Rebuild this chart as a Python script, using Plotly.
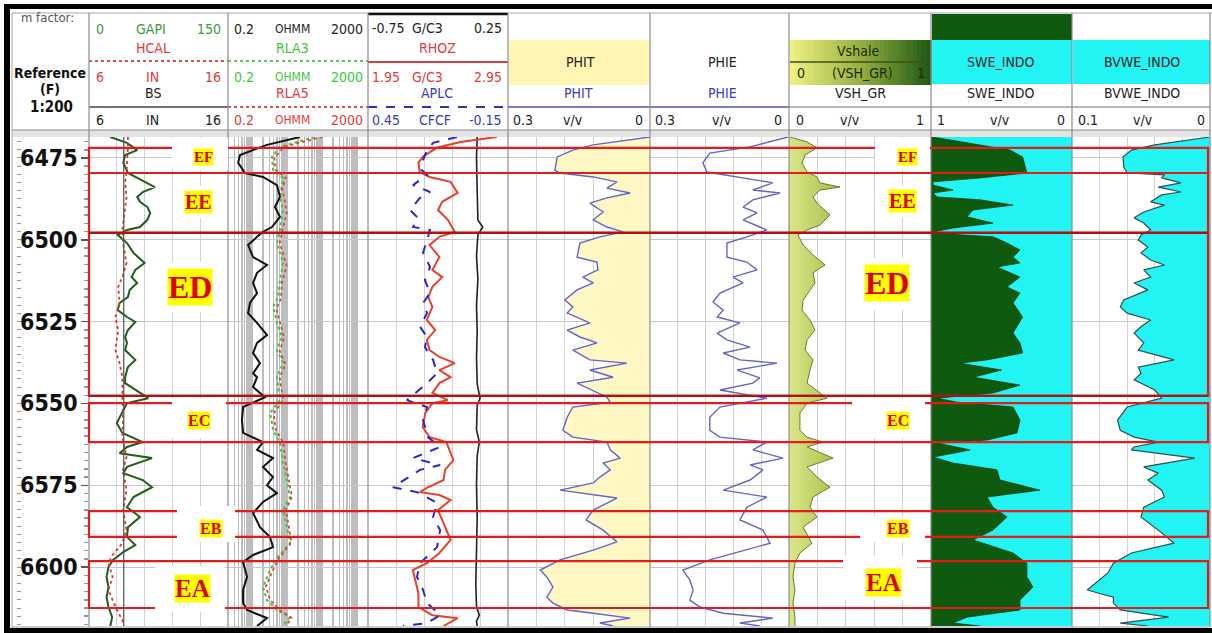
import math
import plotly.graph_objects as go

W, H = 1212, 633
def PX(x): return x / W
def PY(y): return 1 - y / H

TOP_DEPTH, BOT_DEPTH = 6468.6, 6618.0
DEPTH_TICKS = [6475, 6500, 6525, 6550, 6575, 6600]

# ---------------- data (depth, value) ----------------
GR_LOG = [(6468.6, 23), (6470.4, 41), (6472.6, 52), (6474.1, 39), (6476.5, 37), (6479.6, 42), (6481.1, 52),
          (6482.6, 63), (6483.9, 71), (6485.4, 58), (6486.9, 52), (6488.4, 55), (6490.0, 63), (6491.8, 66),
          (6493.9, 63), (6496.1, 55), (6497.0, 41), (6498.5, 31), (6501.0, 41), (6504.0, 48), (6507.1, 60),
          (6509.2, 50), (6511.4, 46), (6513.2, 52), (6515.3, 44), (6517.5, 42), (6519.3, 33), (6521.5, 31),
          (6523.6, 41), (6525.1, 50), (6527.6, 42), (6529.7, 39), (6531.5, 41), (6533.7, 39), (6536.7, 50),
          (6538.9, 42), (6542.0, 39), (6543.8, 39), (6546.8, 55), (6548.4, 64), (6549.9, 41), (6552.9, 36),
          (6556.0, 30), (6559.0, 36), (6561.8, 58), (6563.3, 41), (6565.2, 33), (6566.7, 68), (6569.4, 41),
          (6571.3, 37), (6573.4, 58), (6575.6, 68), (6578.6, 48), (6581.7, 41), (6584.7, 55), (6587.8, 42),
          (6590.8, 41), (6593.3, 50), (6595.4, 37), (6597.8, 26), (6600.0, 21), (6603.0, 19), (6606.1, 21),
          (6609.2, 19), (6612.2, 21), (6615.3, 25), (6618.0, 23)]
HCAL_LOG = [(6468.6, 8.8), (6471.6, 8.8), (6479.3, 8.7), (6482.6, 8.6), (6486.9, 8.7), (6490.9, 8.6),
            (6497.0, 8.4), (6501.0, 8.45), (6507.1, 8.7), (6511.4, 8.4), (6514.4, 8.1), (6519.3, 8.2),
            (6523.6, 7.9), (6527.6, 8.1), (6533.7, 7.9), (6537.7, 8.2), (6542.0, 8.4), (6548.1, 8.4),
            (6555.1, 8.45), (6560.3, 8.4), (6566.4, 8.7), (6570.3, 8.45), (6576.5, 8.7), (6582.6, 8.45),
            (6588.7, 8.7), (6592.7, 8.4), (6596.3, 7.7), (6598.8, 7.4), (6603.0, 7.7), (6607.0, 7.4),
            (6610.1, 7.7), (6613.1, 8.0), (6616.2, 8.4), (6618.0, 8.5)]
BS_LOG = [(6468.6, 8.5), (6618.0, 8.5)]
RSH_LOG = [(6468.6, 22.8), (6471.0, 2.6), (6474.1, 0.44), (6476.5, 0.39), (6479.6, 0.61), (6480.8, 2.0),
           (6483.3, 5.0), (6486.9, 6.1), (6490.0, 4.4), (6493.0, 6.1), (6496.1, 3.6), (6497.6, 2.0),
           (6499.1, 1.35), (6501.6, 0.75), (6505.3, 1.04), (6507.7, 2.6), (6510.1, 1.35), (6513.2, 1.04),
           (6516.3, 1.35), (6519.3, 0.85), (6522.4, 0.75), (6525.4, 1.35), (6529.1, 2.6), (6531.5, 1.35),
           (6534.6, 1.04), (6537.7, 1.64), (6540.8, 1.04), (6542.0, 1.35), (6545.0, 1.04), (6548.1, 2.28),
           (6551.1, 0.54), (6555.1, 0.50), (6559.0, 0.54), (6561.8, 2.0), (6564.2, 1.35), (6566.7, 3.86),
           (6569.4, 2.0), (6572.5, 3.86), (6575.0, 2.6), (6577.4, 5.0), (6580.1, 2.0), (6583.5, 1.04),
           (6587.8, 1.64), (6590.8, 3.17), (6593.9, 3.86), (6596.3, 1.04), (6598.5, 0.54), (6603.0, 0.70),
           (6607.0, 0.54), (6611.0, 0.54), (6613.1, 0.70), (6615.6, 2.6), (6618.0, 1.35)]
RLA3_LOG = [(6468.6, 60), (6471.6, 6.1), (6474.7, 3.6), (6478.7, 3.9), (6481.1, 7.5), (6486.9, 6.1),
            (6490.9, 7.5), (6497.0, 6.1), (6501.0, 5.0), (6507.1, 7.5), (6512.3, 6.1), (6517.5, 5.4),
            (6520.5, 3.9), (6525.4, 5.0), (6529.7, 6.9), (6533.7, 5.0), (6537.7, 7.5), (6542.0, 5.0),
            (6549.0, 6.1), (6552.9, 3.2), (6558.2, 3.9), (6562.1, 6.1), (6568.2, 7.5), (6573.4, 9.7),
            (6578.6, 11.8), (6582.6, 7.5), (6587.8, 9.7), (6592.7, 11.8), (6597.2, 5.0), (6600.9, 3.2),
            (6606.1, 2.0), (6610.1, 2.6), (6613.1, 5.0), (6615.3, 11.8), (6618.0, 7.5)]
RLA5_LOG = [(6468.6, 100), (6471.6, 8.0), (6475.0, 4.2), (6478.7, 4.6), (6481.1, 9.0), (6484.5, 7.0),
            (6488.0, 8.4), (6492.0, 9.5), (6497.0, 7.2), (6501.0, 6.0), (6505.0, 7.8), (6508.0, 9.5),
            (6513.0, 7.0), (6518.0, 6.5), (6521.0, 4.8), (6526.0, 6.2), (6530.0, 8.0), (6534.0, 6.0),
            (6538.0, 8.8), (6542.0, 6.0), (6549.0, 7.5), (6553.0, 4.0), (6558.0, 4.6), (6562.0, 7.6),
            (6568.0, 8.8), (6573.5, 11.0), (6578.5, 13.5), (6582.5, 9.0), (6588.0, 11.0), (6592.5, 13.0),
            (6597.0, 6.0), (6601.0, 3.8), (6606.0, 2.4), (6610.0, 3.2), (6613.0, 5.8), (6615.5, 13.0),
            (6618.0, 9.0)]
DCOR_LOG = [(6468.6, 0.03), (6475.0, 0.025), (6485.0, 0.03), (6494.0, 0.035), (6496.1, 0.07), (6498.5, 0.035),
            (6505.0, 0.025), (6512.0, 0.035), (6520.0, 0.025), (6528.0, 0.03), (6536.0, 0.025), (6544.0, 0.03),
            (6548.4, 0.05), (6550.5, 0.03), (6558.0, 0.025), (6561.8, 0.045), (6566.0, 0.03), (6575.0, 0.025),
            (6585.0, 0.03), (6595.0, 0.025), (6605.0, 0.02), (6612.0, 0.025), (6614.7, 0.045), (6616.5, 0.025),
            (6618.0, 0.03)]
RHOZ_LOG = [(6468.6, 2.87), (6470.1, 2.61), (6471.9, 2.44), (6474.7, 2.34), (6476.5, 2.31), (6479.3, 2.32),
            (6480.8, 2.39), (6482.3, 2.54), (6485.7, 2.59), (6488.4, 2.48), (6490.9, 2.45), (6493.9, 2.52),
            (6497.6, 2.57), (6499.1, 2.46), (6501.6, 2.39), (6505.3, 2.46), (6509.2, 2.41), (6511.4, 2.48),
            (6514.4, 2.41), (6517.5, 2.38), (6520.5, 2.41), (6524.5, 2.37), (6527.6, 2.43), (6530.6, 2.37),
            (6533.7, 2.39), (6535.8, 2.46), (6537.7, 2.57), (6539.8, 2.46), (6542.0, 2.54), (6543.8, 2.46),
            (6546.8, 2.41), (6549.0, 2.52), (6549.9, 2.41), (6552.9, 2.36), (6557.2, 2.34), (6560.3, 2.39),
            (6561.8, 2.51), (6565.2, 2.54), (6567.3, 2.56), (6570.3, 2.50), (6573.4, 2.49), (6575.8, 2.37),
            (6577.1, 2.32), (6578.0, 2.46), (6579.5, 2.54), (6582.6, 2.45), (6586.5, 2.49), (6591.7, 2.54),
            (6595.7, 2.46), (6598.8, 2.37), (6600.9, 2.27), (6604.9, 2.29), (6607.9, 2.31), (6612.2, 2.31),
            (6614.7, 2.41), (6615.6, 2.59), (6618.0, 2.49)]
APLC_LOG = [(6468.6, 0.069), (6470.4, 0.171), (6472.6, 0.197), (6475.6, 0.214), (6478.7, 0.219), (6480.2, 0.197),
            (6483.3, 0.257), (6485.4, 0.184), (6487.2, 0.227), (6490.9, 0.270), (6493.3, 0.236), (6496.1, 0.257),
            (6497.0, 0.184), (6500.1, 0.197), (6504.0, 0.214), (6508.3, 0.184), (6512.3, 0.206), (6516.3, 0.184),
            (6519.3, 0.214), (6522.4, 0.197), (6526.6, 0.227), (6529.7, 0.197), (6532.8, 0.206), (6536.7, 0.171),
            (6540.8, 0.154), (6543.8, 0.197), (6549.0, 0.283), (6551.1, 0.197), (6555.1, 0.214), (6560.3, 0.193),
            (6563.3, 0.141), (6566.7, 0.257), (6568.8, 0.141), (6570.3, 0.227), (6575.6, 0.343), (6577.1, 0.240),
            (6580.4, 0.154), (6584.7, 0.171), (6588.7, 0.141), (6593.9, 0.154), (6598.8, 0.227), (6603.0, 0.240),
            (6607.0, 0.214), (6611.0, 0.197), (6614.7, 0.141), (6617.1, 0.197), (6618.0, 0.30)]
PHIT_LOG = [(6468.6, 0.0), (6471.0, 0.120), (6472.6, 0.163), (6474.7, 0.196), (6478.7, 0.201), (6479.6, 0.190),
            (6480.8, 0.120), (6482.3, 0.070), (6484.2, 0.091), (6485.7, 0.042), (6487.2, 0.091), (6488.8, 0.127),
            (6491.5, 0.099), (6493.9, 0.120), (6496.1, 0.091), (6497.6, 0.057), (6499.1, 0.106), (6501.0, 0.148),
            (6505.3, 0.154), (6506.8, 0.112), (6509.2, 0.110), (6511.4, 0.142), (6513.2, 0.120), (6515.3, 0.154),
            (6518.4, 0.180), (6520.5, 0.163), (6522.4, 0.175), (6525.4, 0.127), (6527.6, 0.175), (6529.7, 0.148),
            (6531.5, 0.112), (6533.7, 0.163), (6536.7, 0.127), (6537.7, 0.049), (6539.8, 0.127), (6542.0, 0.078),
            (6543.8, 0.154), (6548.1, 0.091), (6549.6, 0.084), (6551.1, 0.163), (6554.2, 0.175), (6558.2, 0.184),
            (6560.3, 0.163), (6561.8, 0.091), (6564.2, 0.084), (6566.7, 0.063), (6568.2, 0.099), (6570.3, 0.084),
            (6572.5, 0.106), (6574.3, 0.120), (6576.5, 0.190), (6578.0, 0.120), (6578.9, 0.070), (6582.6, 0.120),
            (6585.6, 0.135), (6588.7, 0.099), (6592.3, 0.070), (6594.8, 0.120), (6597.8, 0.190), (6600.9, 0.232),
            (6603.0, 0.218), (6606.1, 0.205), (6609.2, 0.218), (6611.0, 0.205), (6613.1, 0.175), (6614.1, 0.120),
            (6615.6, 0.042), (6617.1, 0.106), (6618.0, 0.078)]
PHIE_LOG = [(6468.6, 0.002), (6471.6, 0.084), (6473.5, 0.171), (6476.5, 0.186), (6479.3, 0.177), (6480.8, 0.112),
            (6482.6, 0.035), (6484.8, 0.078), (6485.7, 0.019), (6487.8, 0.078), (6490.0, 0.099), (6491.8, 0.069),
            (6493.9, 0.099), (6496.1, 0.063), (6497.0, 0.048), (6499.1, 0.091), (6501.0, 0.134), (6505.3, 0.134),
            (6506.8, 0.091), (6509.2, 0.069), (6511.4, 0.121), (6513.2, 0.099), (6516.3, 0.149), (6519.0, 0.164),
            (6521.5, 0.142), (6523.6, 0.155), (6525.4, 0.106), (6528.5, 0.155), (6530.6, 0.134), (6532.8, 0.084),
            (6534.6, 0.142), (6536.7, 0.106), (6537.7, 0.026), (6539.8, 0.112), (6542.2, 0.063), (6543.8, 0.078),
            (6545.9, 0.149), (6548.4, 0.048), (6551.1, 0.149), (6554.2, 0.171), (6558.2, 0.171), (6560.3, 0.149),
            (6561.8, 0.048), (6564.2, 0.078), (6566.7, 0.013), (6568.8, 0.084), (6570.3, 0.056), (6573.4, 0.084),
            (6576.5, 0.142), (6578.6, 0.048), (6581.7, 0.091), (6585.6, 0.106), (6588.7, 0.056), (6592.7, 0.041),
            (6595.4, 0.112), (6597.8, 0.171), (6600.9, 0.229), (6604.0, 0.214), (6607.0, 0.207), (6610.1, 0.214),
            (6612.2, 0.192), (6614.1, 0.142), (6615.6, 0.035), (6617.1, 0.106), (6618.0, 0.063)]
VSH_LOG = [(6468.6, 0.007), (6470.1, 0.127), (6471.9, 0.197), (6474.1, 0.113), (6476.5, 0.092), (6479.3, 0.127),
           (6480.8, 0.197), (6482.6, 0.218), (6483.9, 0.359), (6484.8, 0.218), (6486.9, 0.169), (6488.8, 0.197),
           (6492.4, 0.289), (6495.5, 0.218), (6497.0, 0.127), (6498.5, 0.063), (6501.6, 0.099), (6504.6, 0.169),
           (6507.7, 0.254), (6510.1, 0.169), (6513.2, 0.183), (6516.3, 0.134), (6518.4, 0.099), (6521.5, 0.092),
           (6524.5, 0.148), (6527.6, 0.183), (6530.6, 0.127), (6533.7, 0.113), (6536.7, 0.169), (6539.8, 0.148),
           (6543.8, 0.127), (6548.4, 0.268), (6549.9, 0.127), (6552.9, 0.077), (6558.2, 0.077), (6560.3, 0.127),
           (6561.8, 0.239), (6563.3, 0.127), (6566.7, 0.310), (6569.4, 0.127), (6572.5, 0.197), (6575.6, 0.289),
           (6578.6, 0.169), (6581.7, 0.148), (6584.7, 0.197), (6587.8, 0.099), (6592.7, 0.162), (6595.7, 0.077),
           (6598.8, 0.042), (6603.0, 0.028), (6607.0, 0.042), (6611.0, 0.028), (6615.3, 0.042), (6618.0, 0.042)]
SWE_LOG = [(6468.6, 0.99), (6470.4, 0.745), (6472.6, 0.44), (6474.7, 0.35), (6477.8, 0.333), (6479.6, 0.32),
           (6481.1, 0.652), (6482.3, 0.986), (6483.3, 0.986), (6484.8, 0.844), (6485.7, 0.986), (6486.9, 0.957),
           (6487.8, 0.652), (6489.4, 0.418), (6490.9, 0.702), (6493.0, 0.745), (6494.9, 0.56), (6496.4, 0.844),
           (6497.6, 0.986), (6498.5, 0.794), (6499.1, 0.56), (6501.0, 0.461), (6503.1, 0.369), (6505.3, 0.418),
           (6507.1, 0.369), (6508.3, 0.532), (6511.4, 0.369), (6514.4, 0.461), (6516.3, 0.369), (6519.3, 0.418),
           (6523.6, 0.35), (6526.6, 0.39), (6528.5, 0.418), (6531.5, 0.369), (6534.6, 0.35), (6536.7, 0.603),
           (6537.7, 0.794), (6539.8, 0.50), (6542.0, 0.70), (6544.4, 0.369), (6546.8, 0.56), (6548.4, 0.957),
           (6549.6, 0.816), (6551.1, 0.418), (6555.1, 0.369), (6559.0, 0.39), (6561.2, 0.603), (6562.1, 0.957),
           (6564.2, 0.723), (6566.4, 0.986), (6568.2, 0.844), (6570.3, 0.532), (6573.4, 0.511), (6576.5, 0.227),
           (6578.6, 0.603), (6581.7, 0.56), (6584.7, 0.461), (6588.7, 0.56), (6591.7, 0.702), (6595.7, 0.418),
           (6598.8, 0.32), (6603.0, 0.32), (6606.1, 0.277), (6610.1, 0.369), (6613.1, 0.369), (6615.3, 0.745),
           (6617.1, 0.844), (6618.0, 0.652)]
BVWE_LOG = [(6468.6, 0.0), (6471.0, 0.040), (6472.6, 0.057), (6474.7, 0.063), (6477.8, 0.0625), (6479.6, 0.060),
            (6480.2, 0.033), (6481.1, 0.035), (6482.6, 0.021), (6483.9, 0.0375), (6485.4, 0.021), (6486.3, 0.035),
            (6488.4, 0.043), (6489.4, 0.033), (6491.5, 0.048), (6493.3, 0.055), (6494.9, 0.048), (6497.0, 0.043),
            (6498.5, 0.050), (6500.1, 0.052), (6502.2, 0.045), (6504.0, 0.050), (6506.2, 0.043), (6507.7, 0.033),
            (6509.2, 0.048), (6511.4, 0.043), (6513.2, 0.055), (6515.3, 0.045), (6518.4, 0.0625), (6520.5, 0.065),
            (6522.4, 0.060), (6524.5, 0.043), (6526.6, 0.050), (6528.5, 0.055), (6531.5, 0.048), (6533.7, 0.052),
            (6536.7, 0.026), (6538.9, 0.052), (6540.8, 0.050), (6542.8, 0.055), (6545.9, 0.040), (6548.4, 0.035),
            (6551.1, 0.060), (6555.1, 0.067), (6558.2, 0.065), (6560.3, 0.055), (6561.8, 0.0375), (6563.3, 0.055),
            (6564.2, 0.057), (6566.7, 0.011), (6569.4, 0.048), (6571.3, 0.0375), (6573.4, 0.045), (6576.5, 0.035),
            (6578.6, 0.033), (6581.7, 0.048), (6584.7, 0.050), (6588.7, 0.0375), (6592.7, 0.026), (6595.7, 0.057),
            (6598.8, 0.070), (6601.8, 0.074), (6607.0, 0.089), (6609.2, 0.070), (6611.0, 0.070), (6613.1, 0.065),
            (6615.3, 0.030), (6617.1, 0.065), (6618.0, 0.045)]

ZONE_NAMES = ["EF", "EE", "ED", "EC", "EB", "EA"]
ZONE_TOPS = [6471.9, 6479.6, 6497.9, 6549.9, 6582.9, 6598.2]
ZONE_BOTS = [6479.6, 6497.9, 6547.7, 6561.8, 6590.8, 6612.5]

def split(pairs):
    return [p[0] for p in pairs], [p[1] for p in pairs]

# ---------------- geometry (pixels) ----------------
TRK = {'gr': (89, 228), 'res': (228, 368), 'den': (368, 508), 'phit': (508, 650),
       'phie': (650, 789), 'vsh': (789, 931), 'swe': (931, 1072), 'bvw': (1072, 1210)}
def dom(k):
    a, b = TRK[k]
    return [PX(a), PX(b)]

HF = "Liberation Sans Narrow, DejaVu Sans Condensed, Arial Narrow, Liberation Sans, sans-serif"
GRID = '#D2D2D2'
CYAN = '#22F4F4'
DKGREEN = '#0E5A0E'

fig = go.Figure()

def add(pairs, axis, color, width=1.5, dash='solid', fill=None, fillcolor=None, **kw):
    d, v = split(pairs)
    fig.add_trace(go.Scatter(x=v, y=d, xaxis=axis, yaxis='y', mode='lines',
                             line=dict(color=color, width=width, dash=dash),
                             fill=fill, fillcolor=fillcolor, hoverinfo='skip',
                             showlegend=False, **kw))

def baseline(axis, value):
    fig.add_trace(go.Scatter(x=[value, value], y=[TOP_DEPTH, BOT_DEPTH], xaxis=axis, yaxis='y',
                             mode='lines', line=dict(width=0, color='rgba(0,0,0,0)'),
                             hoverinfo='skip', showlegend=False))

# GR track
add(GR_LOG, 'x', '#1D5E1D', 2)
add(HCAL_LOG, 'x2', '#E03535', 1.8, 'dot')
add(BS_LOG, 'x2', '#505050', 1.2)
# Resistivity
add(RLA3_LOG, 'x3', '#3CC83C', 2, 'dot')
add(RLA5_LOG, 'x3', '#E04040', 1.8, 'dot')
add(RSH_LOG, 'x3', '#111111', 2)
# Density / neutron
add(DCOR_LOG, 'x4', '#222222', 1.6)
add(RHOZ_LOG, 'x5', '#E8402A', 2)
add(APLC_LOG, 'x6', '#2828C8', 2, 'dash')
# PHIT
baseline('x7', 0)
add(PHIT_LOG, 'x7', '#6464C8', 1.4, fill='tonextx', fillcolor='#FFF7C4')
# PHIE
add(PHIE_LOG, 'x8', '#6464C8', 1.4)
# VSH
baseline('x9', 0)
add(VSH_LOG, 'x9', '#6E7A30', 1, fill='tonextx', fillcolor='#D0DC78',
    fillgradient=dict(type='horizontal', start=0, stop=0.36,
                      colorscale=[[0, '#DCE689'], [1, '#A4BE46']]))
# SWE
baseline('x10', 1)
add(SWE_LOG, 'x10', DKGREEN, 0.8, fill='tonextx', fillcolor=DKGREEN)
baseline('x10', 0)
add(SWE_LOG, 'x10', '#0A3A0A', 0.8, fill='tonextx', fillcolor=CYAN)
# BVWE
baseline('x11', 0)
add(BVWE_LOG, 'x11', '#2F4F4F', 1.2, fill='tonextx', fillcolor=CYAN)
# helper for the left tick ruler axis
fig.add_trace(go.Scatter(x=[75], y=[6500], xaxis='x', yaxis='y2', mode='markers',
                         marker=dict(opacity=0), hoverinfo='skip', showlegend=False))

ax = dict(showticklabels=False, ticks='', zeroline=False, showline=False, anchor='y', fixedrange=True)
layout = dict(
    width=W, height=H, margin=dict(l=0, r=0, t=0, b=0),
    paper_bgcolor='white', plot_bgcolor='white', showlegend=False,
    xaxis=dict(domain=dom('gr'), range=[0, 150], tick0=0, dtick=30, showgrid=True, gridcolor=GRID, **ax),
    xaxis2=dict(overlaying='x', range=[6, 16], showgrid=False, **ax),
    xaxis3=dict(domain=dom('res'), type='log', range=[math.log10(0.2), math.log10(2000)], dtick='D1',
                showgrid=True, gridcolor='#BDBDBD', gridwidth=1.3, **ax),
    xaxis4=dict(domain=dom('den'), range=[-0.75, 0.25], tick0=-0.75, dtick=0.2, showgrid=True, gridcolor=GRID, **ax),
    xaxis5=dict(overlaying='x4', range=[1.95, 2.95], showgrid=False, **ax),
    xaxis6=dict(overlaying='x4', range=[0.45, -0.15], showgrid=False, **ax),
    xaxis7=dict(domain=dom('phit'), range=[0.3, 0], tick0=0, dtick=0.06, showgrid=True, gridcolor=GRID, **ax),
    xaxis8=dict(domain=dom('phie'), range=[0.3, 0], tick0=0, dtick=0.06, showgrid=True, gridcolor=GRID, **ax),
    xaxis9=dict(domain=dom('vsh'), range=[0, 1], tick0=0, dtick=0.2, showgrid=True, gridcolor=GRID, **ax),
    xaxis10=dict(domain=dom('swe'), range=[1, 0], showgrid=False, **ax),
    xaxis11=dict(domain=dom('bvw'), range=[0.1, 0], tick0=0, dtick=0.02, showgrid=True, gridcolor=GRID, **ax),
    yaxis=dict(domain=[PY(626), PY(137)], range=[BOT_DEPTH, TOP_DEPTH], anchor='free', position=PX(88),
               side='left', tickmode='array', tickvals=DEPTH_TICKS, ticks='outside', ticklen=7,
               tickwidth=1.5, tickcolor='#555555', showticklabels=False,
               showgrid=True, gridcolor='#C8C8C8', zeroline=False, showline=False, fixedrange=True,
               minor=dict(ticks='outside', tickmode='linear', tick0=6475, dtick=2.5, ticklen=4,
                          tickcolor='#8A9AAA', showgrid=False)),
    yaxis2=dict(overlaying='y', anchor='free', position=PX(16), side='right', range=[BOT_DEPTH, TOP_DEPTH],
                tickmode='linear', tick0=6475, dtick=2.5, ticks='outside', ticklen=4, tickcolor='#8A9AAA',
                showticklabels=False, showgrid=False, zeroline=False, showline=False, fixedrange=True),
)
fig.update_layout(**layout)

shapes = []
annots = []

def rect(x0, y0, x1, y1, fill, line=None, lw=0, layer='above'):
    shapes.append(dict(type='rect', xref='paper', yref='paper', x0=PX(x0), x1=PX(x1), y0=PY(y0), y1=PY(y1),
                       fillcolor=fill, line=dict(color=line or fill, width=lw), layer=layer))

def hline(y, x0, x1, color, width=1, dash='solid'):
    shapes.append(dict(type='line', xref='paper', yref='paper', x0=PX(x0), x1=PX(x1), y0=PY(y), y1=PY(y),
                       line=dict(color=color, width=width, dash=dash), layer='above'))

def vline(x, y0, y1, color, width=1):
    shapes.append(dict(type='line', xref='paper', yref='paper', x0=PX(x), x1=PX(x), y0=PY(y0), y1=PY(y1),
                       line=dict(color=color, width=width), layer='above'))

def txt(x, y, s, color='#222222', size=14, anchor='center', bold=False, family=HF):
    annots.append(dict(x=PX(x), y=PY(y), xref='paper', yref='paper', text=(f'<b>{s}</b>' if bold else s),
                       showarrow=False, xanchor=anchor, yanchor='middle',
                       font=dict(family=family, size=size, color=color), borderpad=0))

# depth labels (placed on the depth axis)
for d in DEPTH_TICKS:
    annots.append(dict(x=PX(79), y=d, xref='paper', yref='y', text=f'<b>{d}</b>', showarrow=False,
                       xanchor='right', yanchor='middle', borderpad=0,
                       font=dict(family=HF, size=23, color='#111111')))

# ---- header boxes ----
rect(509, 40, 649, 85, '#FFF6B4')
g0, g1, g2 = (238, 240, 128), (150, 175, 64), (34, 90, 22)
n = 30
for i in range(n):
    t = i / (n - 1)
    if t < 0.5:
        a, b, u = g0, g1, t / 0.5
    else:
        a, b, u = g1, g2, (t - 0.5) / 0.5
    c = tuple(int(a[k] + (b[k] - a[k]) * u) for k in range(3))
    xa = 790 + i * (141 / n)
    rect(xa, 40, xa + 141 / n + 0.6, 85, 'rgb(%d,%d,%d)' % c)
hline(62, 790, 931, '#3E5218', 1.5)
rect(932, 14, 1072, 40, DKGREEN)
rect(932, 40, 1072, 84, CYAN)
rect(1073, 40, 1210, 84, CYAN)

# ---- header lines ----
hline(13, 12, 1212, '#A8A8A8', 1)
hline(14, 368, 508, '#111111', 2.5)
hline(61, 89, 228, '#E05050', 2, 'dot')
hline(107, 89, 228, '#444444', 1.5)
hline(61, 228, 368, '#50D050', 2, 'dot')
hline(107, 228, 368, '#E05050', 2, 'dot')
hline(62, 368, 508, '#D04040', 2)
hline(107, 368, 508, '#3030C0', 2, 'dash')
hline(107, 508, 789, '#5050B0', 1.5)
hline(107, 789, 1210, '#707070', 1.2)
rect(12, 130, 1210, 137, '#E4E4E4')
hline(130, 12, 1210, '#8A8A8A', 1)

# ---- track separators ----
for xs in [89, 228, 368, 508, 650, 789, 931, 1072, 1210]:
    vline(xs, 13, 627, '#8C8C8C', 1.2)
vline(12, 13, 628, '#A8A8A8', 1)
hline(627, 12, 1210, '#9A9A9A', 1)

# ---- frame ----
rect(4, 4, 1212, 9, '#000000')
rect(4, 4, 10, 633, '#000000')
rect(4, 628, 1212, 633, '#000000')

# ---- zones ----
for top, bot in zip(ZONE_TOPS, ZONE_BOTS):
    shapes.append(dict(type='rect', xref='paper', yref='y', x0=PX(89), x1=PX(1208), y0=top, y1=bot,
                       line=dict(color='#E21B1B', width=2.2), fillcolor='rgba(0,0,0,0)', layer='above'))
for dz in (ZONE_BOTS[1], ZONE_BOTS[2]):
    shapes.append(dict(type='line', xref='paper', yref='y', x0=PX(89), x1=PX(1208), y0=dz, y1=dz,
                       line=dict(color='#B01212', width=2.4), layer='above'))

LABELS_LEFT = {'EF': (203, 157, 15, (172, 138, 228, 170)), 'EE': (198, 202, 20, (180, 186, 218, 218)),
               'ED': (190, 287, 32, (160, 262, 222, 312)), 'EC': (199, 420, 16, (172, 398, 226, 438)),
               'EB': (211, 528, 16, (177, 506, 235, 542)), 'EA': (192, 588, 25, (155, 566, 225, 612))}
LABELS_RIGHT = {'EF': (907, 157, 15, (875, 138, 930, 170)), 'EE': (902, 201, 20, (883, 186, 922, 218)),
                'ED': (887, 283, 32, (858, 258, 918, 310)), 'EC': (898, 420, 16, (852, 398, 925, 438)),
                'EB': (898, 528, 16, (860, 516, 925, 542)), 'EA': (884, 582, 25, (843, 556, 917, 600))}
for lab in ZONE_NAMES:
    for table in (LABELS_LEFT, LABELS_RIGHT):
        x, y, s, (bx0, by0, bx1, by1) = table[lab]
        rect(bx0, by0, bx1, by1, '#FFFFFF')
        annots.append(dict(x=PX(x), y=PY(y), xref='paper', yref='paper', text=f'<b>{lab}</b>', showarrow=False,
                           xanchor='center', yanchor='middle', bgcolor='#FFFF00', borderpad=0,
                           font=dict(family='Liberation Serif, Times New Roman, serif', size=s, color='#E00000')))

# ---- header texts ----
txt(47, 18, 'm factor:', '#555555', 13)
txt(50, 73, 'Reference', '#111111', 14, bold=True)
txt(50, 89, '(F)', '#111111', 14, bold=True)
txt(51, 107, '1:200', '#111111', 15, bold=True)

GRN, RED, BLU, BLK = '#3A9A3A', '#E03C3C', '#3A3AC0', '#222222'
def scale_row(y, left, unit, right, color, xl, xc, xr, usize=14):
    txt(xl, y, left, color, 14, 'left')
    txt(xc, y, unit, color, usize)
    txt(xr, y, right, color, 14, 'right')

scale_row(29, '0', 'GAPI', '150', GRN, 95, 151, 222)
txt(153, 48, 'HCAL', RED)
scale_row(77, '6', 'IN', '16', RED, 95, 152, 222)
txt(153, 93, 'BS', BLK)
scale_row(120, '6', 'IN', '16', BLK, 95, 152, 222)

scale_row(29, '0.2', 'OHMM', '2000', BLK, 233, 292, 364, 12)
txt(292, 48, 'RLA3', '#3CC83C')
scale_row(77, '0.2', 'OHMM', '2000', '#3CC83C', 233, 292, 364, 12)
txt(292, 93, 'RLA5', RED)
scale_row(120, '0.2', 'OHMM', '2000', RED, 233, 292, 364, 12)

scale_row(28, '-0.75', 'G/C3', '0.25', BLK, 371, 427, 503)
txt(437, 48, 'RHOZ', RED)
scale_row(77, '1.95', 'G/C3', '2.95', RED, 371, 427, 503)
txt(437, 93, 'APLC', BLU)
scale_row(120, '0.45', 'CFCF', '-0.15', BLU, 371, 435, 503)

txt(580, 62, 'PHIT', BLK)
txt(578, 93, 'PHIT', BLU)
scale_row(120, '0.3', 'v/v', '0', BLK, 512, 573, 644)
txt(722, 62, 'PHIE', BLK)
txt(722, 93, 'PHIE', BLU)
scale_row(120, '0.3', 'v/v', '0', BLK, 654, 722, 783)

txt(858, 51, 'Vshale', '#1A2A0A')
scale_row(73, '0', '(VSH_GR)', '1', '#1A2A0A', 796, 862, 926)
txt(860, 93, 'VSH_GR', BLK)
scale_row(120, '0', 'v/v', '1', BLK, 795, 850, 925)

txt(1001, 62, 'SWE_INDO', BLK)
txt(1001, 93, 'SWE_INDO', BLK)
scale_row(120, '1', 'v/v', '0', BLK, 936, 1000, 1066)

txt(1142, 62, 'BVWE_INDO', BLK)
txt(1142, 93, 'BVWE_INDO', BLK)
scale_row(120, '0.1', 'v/v', '0', BLK, 1077, 1143, 1206)

fig.update_layout(shapes=shapes, annotations=annots)

fig.write_html("out.html", config={'displayModeBar': False, 'staticPlot': True},
               post_script="document.body.style.margin='0';document.body.style.overflow='hidden';")
